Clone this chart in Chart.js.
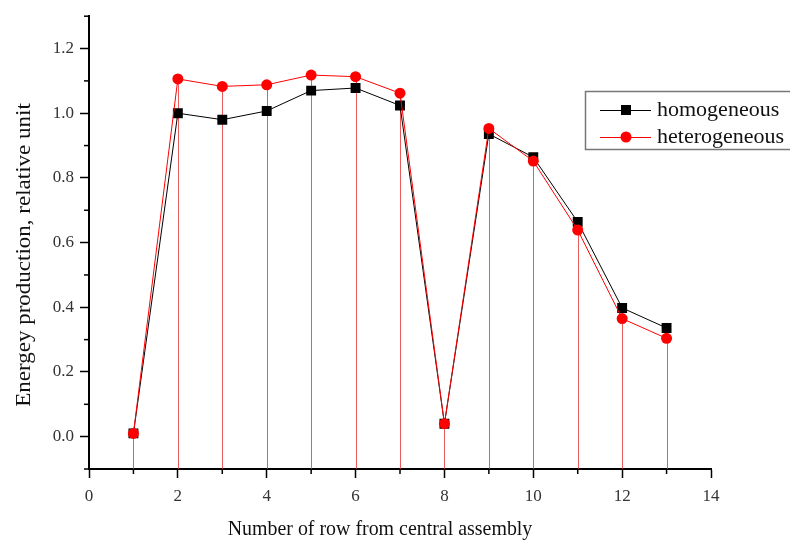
<!DOCTYPE html>
<html><head><meta charset="utf-8">
<script src="https://cdn.jsdelivr.net/npm/chart.js@4/dist/chart.umd.min.js"></script>
<style>html,body{margin:0;padding:0;background:#fff}#wrap{width:790px;height:545px}</style>
</head><body><div id="wrap"><canvas id="c" width="790" height="545"></canvas></div>
<script>
const rows = [1, 2, 3, 4, 5, 6, 7, 8, 9, 10, 11, 12, 13];
const homogeneous = [0.01, 1.000, 0.980, 1.007, 1.070, 1.078, 1.024, 0.040, 0.936, 0.864, 0.664, 0.398, 0.336];
const heterogeneous = [0.01, 1.106, 1.083, 1.088, 1.118, 1.113, 1.062, 0.040, 0.953, 0.852, 0.639, 0.365, 0.304];
const xTickLabels = ['0', '2', '4', '6', '8', '10', '12', '14'];
const yTickLabels = ['0.0', '0.2', '0.4', '0.6', '0.8', '1.0', '1.2'];
const seriesNames = ['homogeneous', 'heterogeneous'];
const xTitle = 'Number of row from central assembly';
const yTitle = 'Energey production, relative unit';

const FONT = '"Liberation Serif", "Times New Roman", serif';
const isXMajor = v => xTickLabels.includes(String(Math.round(v)) ) && Math.abs(v - Math.round(v)) < 1e-6;
const isYMajor = v => yTickLabels.includes((Math.abs(v) < 1e-9 ? 0 : v).toFixed(1));

const dropLines = {
  id: 'dropLines',
  beforeDatasetsDraw(chart) {
    const meta = chart.getDatasetMeta(1);
    const ctx = chart.ctx;
    ctx.save();
    ctx.strokeStyle = 'rgba(230,50,50,0.8)';
    ctx.lineWidth = 1;
    meta.data.forEach(pt => {
      const x = Math.round(pt.x) + 0.5;
      ctx.beginPath();
      ctx.moveTo(x, pt.y);
      ctx.lineTo(x, chart.chartArea.bottom);
      ctx.stroke();
    });
    ctx.restore();
  }
};

const minorTicks = {
  id: 'minorTicks',
  afterDraw(chart) {
    const ctx = chart.ctx;
    const xs = chart.scales.x, ys = chart.scales.y;
    ctx.save();
    ctx.strokeStyle = '#000';
    ctx.lineWidth = 1.5;
    xs.ticks.forEach(t => {
      if (isXMajor(t.value)) return;
      const px = xs.getPixelForValue(t.value);
      ctx.beginPath(); ctx.moveTo(px, xs.top); ctx.lineTo(px, xs.top + 5); ctx.stroke();
    });
    ys.ticks.forEach(t => {
      if (isYMajor(t.value)) return;
      const py = ys.getPixelForValue(t.value);
      ctx.beginPath(); ctx.moveTo(ys.right, py); ctx.lineTo(ys.right - 5, py); ctx.stroke();
    });
    ctx.restore();
  }
};

const titles = {
  id: 'titles',
  afterDraw(chart) {
    const ctx = chart.ctx;
    ctx.save();
    ctx.fillStyle = '#111';
    ctx.textAlign = 'center';
    ctx.textBaseline = 'middle';
    ctx.font = '22px ' + FONT;
    ctx.save();
    ctx.translate(380, 529);
    ctx.scale(0.905, 1);
    ctx.fillText(xTitle, 0, 0);
    ctx.restore();
    ctx.font = '23px ' + FONT;
    ctx.translate(25, 255);
    ctx.rotate(-Math.PI / 2);
    ctx.scale(1, 0.9);
    ctx.fillText(yTitle, 0, 0);
    ctx.restore();
  }
};

const boxLegend = {
  id: 'boxLegend',
  afterDraw(chart) {
    const ctx = chart.ctx;
    ctx.save();
    ctx.strokeStyle = '#777';
    ctx.lineWidth = 1.5;
    ctx.strokeRect(585.5, 91.5, 230, 58);
    const rowsY = [110, 137];
    chart.data.datasets.forEach((ds, i) => {
      const y = rowsY[i];
      ctx.strokeStyle = ds.borderColor;
      ctx.lineWidth = 1;
      ctx.beginPath(); ctx.moveTo(600, y + 0.5); ctx.lineTo(651, y + 0.5); ctx.stroke();
      ctx.fillStyle = ds.pointBackgroundColor;
      if (ds.pointStyle === 'rect') {
        ctx.fillRect(621, y - 5, 10, 10);
      } else {
        ctx.beginPath(); ctx.arc(626, y, 5.5, 0, Math.PI * 2); ctx.fill();
      }
      ctx.fillStyle = '#111';
      ctx.font = '22px ' + FONT;
      ctx.textAlign = 'left';
      ctx.textBaseline = 'middle';
      ctx.fillText(ds.label, 657, y);
    });
    ctx.restore();
  }
};

new Chart(document.getElementById('c'), {
  type: 'line',
  data: {
    datasets: [
      {
        label: seriesNames[0],
        data: rows.map((r, i) => ({ x: r, y: homogeneous[i] })),
        borderColor: '#000',
        borderWidth: 1,
        pointStyle: 'rect',
        pointRadius: 7,
        pointBackgroundColor: '#000',
        pointBorderWidth: 0,
        order: 1
      },
      {
        label: seriesNames[1],
        data: rows.map((r, i) => ({ x: r, y: heterogeneous[i] })),
        borderColor: '#ff0000',
        borderWidth: 1,
        pointStyle: 'circle',
        pointRadius: 5.5,
        pointBackgroundColor: '#ff0000',
        pointBorderWidth: 0,
        order: 0
      }
    ]
  },
  options: {
    responsive: false,
    animation: false,
    devicePixelRatio: 1,
    layout: { padding: { top: 9, right: 79, left: 0, bottom: 0 } },
    plugins: { legend: { display: false }, tooltip: { enabled: false } },
    scales: {
      x: {
        type: 'linear', min: 0, max: 14,
        afterFit: s => { s.height = 76; },
        border: { display: true, color: '#000', width: 2 },
        grid: {
          drawOnChartArea: false, drawTicks: true, tickLength: 9, tickWidth: 1.5,
          tickColor: c => (c.tick && isXMajor(c.tick.value)) ? '#000' : 'rgba(0,0,0,0)'
        },
        ticks: {
          stepSize: 1, autoSkip: false, maxRotation: 0, padding: 8,
          color: '#333', font: { family: FONT, size: 17 },
          callback: v => isXMajor(v) ? String(Math.round(v)) : ''
        }
      },
      y: {
        type: 'linear', min: -0.1, max: 1.3,
        afterFit: s => { s.width = 89; },
        border: { display: true, color: '#000', width: 2 },
        grid: {
          drawOnChartArea: false, drawTicks: true, tickLength: 9, tickWidth: 1.5,
          tickColor: c => (c.tick && isYMajor(c.tick.value)) ? '#000' : 'rgba(0,0,0,0)'
        },
        ticks: {
          stepSize: 0.1, autoSkip: false, padding: 6,
          color: '#333', font: { family: FONT, size: 17 },
          callback: v => isYMajor(v) ? (Math.abs(v) < 1e-9 ? 0 : v).toFixed(1) : ''
        }
      }
    }
  },
  plugins: [dropLines, minorTicks, titles, boxLegend]
});
</script>
</body></html>
